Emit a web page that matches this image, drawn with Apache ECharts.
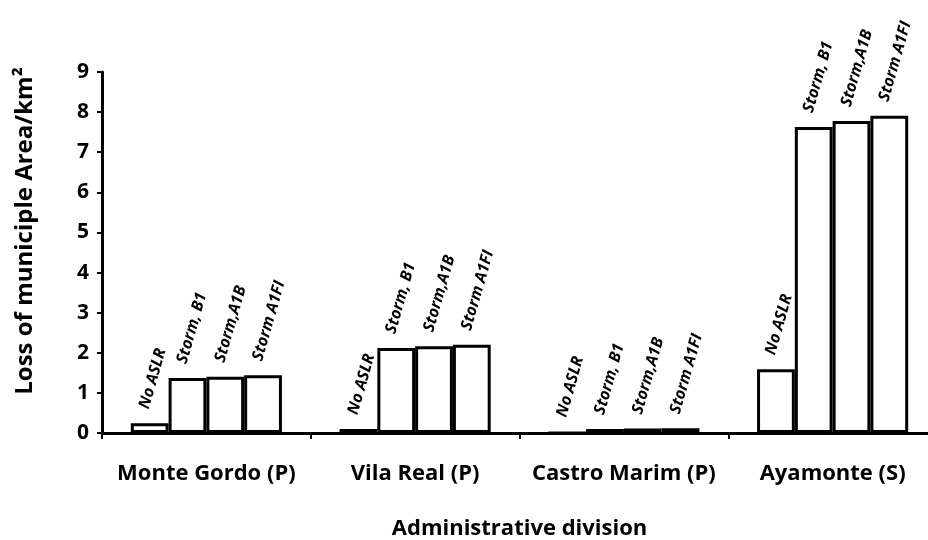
<!DOCTYPE html>
<html><head><meta charset="utf-8">
<script src="https://cdn.jsdelivr.net/npm/echarts@6/dist/echarts.min.js"></script>
<style>html,body{margin:0;padding:0;background:#fff}#c{width:928px;height:540px}</style>
</head><body><div id="c"></div>
<script>
const categories = ['Monte Gordo (P)', 'Vila Real (P)', 'Castro Marim (P)', 'Ayamonte (S)'];
const seriesNames = ['No ASLR', 'Storm, B1', 'Storm,A1B', 'Storm A1FI'];
const noASLR = [0.24, 0.10, 0, 1.59];
const stormB1 = [1.37, 2.12, 0.10, 7.63];
const stormA1B = [1.40, 2.16, 0.11, 7.78];
const stormA1FI = [1.44, 2.20, 0.12, 7.91];
const yTicks = [0, 1, 2, 3, 4, 5, 6, 7, 8, 9];
const yTitle = 'Loss of municiple Area/km²';
const xTitle = 'Administrative division';

const FONT = 'Open Sans';
const values = [noASLR, stormB1, stormA1B, stormA1FI];
const chart = echarts.init(document.getElementById('c'));
chart.setOption({
  animation: false,
  backgroundColor: '#fff',
  grid: { left: 102, right: -9, top: 72, bottom: 107, containLabel: false, outerBoundsMode: 'none' },
  graphic: [{
    type: 'text', x: 25, y: 231, rotation: Math.PI / 2,
    style: { text: yTitle, fontFamily: FONT, fontWeight: 'bold', fontSize: 24, fill: '#000',
      align: 'center', verticalAlign: 'middle' }
  }],
  xAxis: {
    type: 'category', data: categories,
    name: xTitle, nameLocation: 'middle', nameGap: 85,
    nameTextStyle: { fontFamily: FONT, fontWeight: 'bold', fontSize: 22, color: '#000' },
    axisLine: { lineStyle: { color: '#000', width: 3 } },
    axisTick: { show: true, length: 6, lineStyle: { color: '#000', width: 2 } },
    axisLabel: { interval: 0, fontFamily: FONT, fontWeight: 'bold', fontSize: 22, color: '#000', margin: 30 }
  },
  yAxis: {
    type: 'value', min: 0, max: 9, interval: 1,
    axisLine: { show: true, lineStyle: { color: '#000', width: 3 } },
    axisTick: { show: true, length: 5, lineStyle: { color: '#000', width: 2 } },
    splitLine: { show: false },
    axisLabel: { fontFamily: FONT, fontWeight: 'bold', fontSize: 21, color: '#000', margin: 13,
      formatter: v => yTicks.includes(v) ? String(v) : '' }
  },
  series: seriesNames.map((n, i) => ({
    name: n, type: 'bar', data: values[i],
    barGap: '0%', barCategoryGap: '27.6%',
    itemStyle: { color: '#fff', borderColor: '#000', borderWidth: 3 },
    label: {
      show: true, position: 'top', distance: 34, offset: [-20, 0], rotate: 74, align: 'left', verticalAlign: 'middle',
      formatter: n, fontFamily: FONT, fontStyle: 'italic', fontWeight: 'bold', fontSize: 16, color: '#000'
    }
  }))
});
</script></body></html>
